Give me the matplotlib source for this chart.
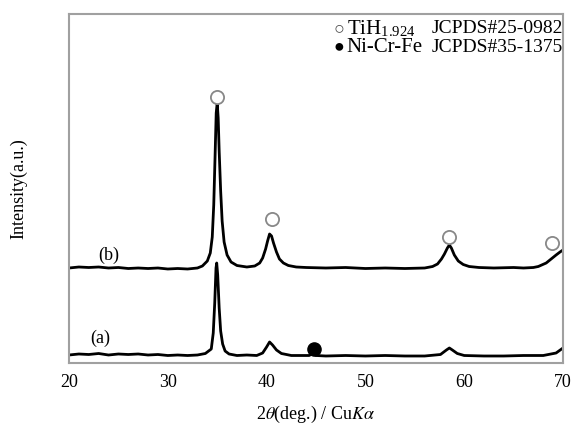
import matplotlib
matplotlib.use("Agg")
import matplotlib.pyplot as plt

plt.rcParams['font.family'] = ['Liberation Serif', 'DejaVu Serif']
plt.rcParams['mathtext.fontset'] = 'stix'

# Pattern (b)
b_x = [20, 21, 22, 23, 24, 25, 26, 27, 28, 29, 30, 31, 32, 33, 33.5, 34.0, 34.3, 34.5, 34.65, 34.78,
       34.9, 35.0, 35.1, 35.2, 35.35, 35.5, 35.7, 36.0, 36.4, 37, 38, 38.8, 39.3, 39.6,
       39.9, 40.1, 40.3, 40.5, 40.7, 41.0, 41.3, 41.7, 42.2, 43, 44, 46, 48, 50, 52, 54, 56, 56.8, 57.3,
       57.7, 58.0, 58.3, 58.5, 58.7, 59.0, 59.4, 59.9, 60.5, 61.5, 63, 65, 66, 67, 67.5, 68.3, 68.8, 69.3, 69.7, 70]
b_y = [95, 96, 95.5, 96, 95, 95.5, 94.5, 95, 94.5, 95, 94, 94.5, 94, 95, 97, 102, 110, 126, 158, 205,
       250, 260, 245, 212, 172, 142, 121, 108, 101, 97.5, 96, 97, 100, 105,
       114, 122, 129, 127, 120, 111, 104, 100, 97.5, 96, 95.5, 95, 95.5, 94.5, 95, 94.5, 95, 96.5, 99,
       104, 109, 115, 118, 115, 108, 102, 98.5, 96.5, 95.5, 95, 95.5, 95, 95.5, 96.5, 100, 104, 108, 111, 113]

# Pattern (a)
a_x = [20, 21, 22, 23, 24, 25, 26, 27, 28, 29, 30, 31, 32, 33, 33.8, 34.4, 34.6, 34.75, 34.88, 34.95,
       35.05, 35.2, 35.35, 35.55, 35.8, 36.2, 37, 38, 39, 39.6, 40.0, 40.3, 40.6, 41, 41.5, 42.5,
       43.5, 44.3, 44.7, 45.0, 46, 48, 50, 52, 54, 56, 57.6, 58.2, 58.5, 58.8, 59.3, 60, 62, 64,
       66, 68, 69.3, 70]
a_y = [8, 9, 8.5, 9.5, 8, 9, 8.5, 9, 8, 8.5, 7.5, 8, 7.5, 8, 9.5, 14, 30, 60, 95, 100,
       88, 55, 32, 19, 12, 9, 7.5, 8, 7.5, 10, 16, 21, 18, 13, 9.5, 7.5,
       7.5, 7.5, 9.5, 7.5, 7, 7.5, 7, 7.5, 7, 7, 8.5, 13, 15, 13, 9.5, 7.5, 7, 7,
       7.5, 7.5, 10, 15]

# Marker positions
open_x = [35.0, 40.5, 58.5, 68.9]
open_y = [266, 144, 126, 120]
fill_x = [44.8]
fill_y = [14]

tick_vals = [20, 30, 40, 50, 60, 70]

fig = plt.figure(figsize=(5.75, 4.24), dpi=100)
ax = fig.add_axes([69/575, (424-363)/424, (563-69)/575, (363-14)/424])

ax.plot(b_x, b_y, color='black', lw=2.0)
ax.plot(a_x, a_y, color='black', lw=2.0)

ax.scatter(open_x, open_y, s=90, facecolors='white', edgecolors='#888888', linewidths=1.3, zorder=3)
ax.scatter(fill_x, fill_y, s=90, color='black', zorder=3)

ax.set_xlim(20, 70)
ax.set_ylim(0, 349)
ax.set_xticks(tick_vals)
ax.set_xticklabels([str(v) for v in tick_vals], fontsize=13)
ax.set_yticks([])
ax.tick_params(axis='x', length=0, pad=8)
for s in ax.spines.values():
    s.set_color('#a0a0a0')
    s.set_linewidth(1.5)

ax.set_xlabel(r'2$\theta$(deg.) / Cu$K\alpha$', fontsize=13, labelpad=9)
ax.set_ylabel('Intensity(a.u.)', fontsize=13, labelpad=30)

ax.text(24.0, 108, '(b)', fontsize=13, ha='center', va='center')
ax.text(23.2, 25, '(a)', fontsize=13, ha='center', va='center')

# Legend text
ax.text(0.535, 0.958, '\u25CB', transform=ax.transAxes, fontsize=13, ha='left', va='center', color='#444444')
ax.text(0.562, 0.958, r'TiH$_{\mathregular{1.924}}$', transform=ax.transAxes, fontsize=15, ha='left', va='center')
ax.text(0.735, 0.958, 'JCPDS#25-0982', transform=ax.transAxes, fontsize=14, ha='left', va='center')
ax.text(0.535, 0.905, '\u25CF', transform=ax.transAxes, fontsize=13, ha='left', va='center')
ax.text(0.562, 0.905, 'Ni-Cr-Fe', transform=ax.transAxes, fontsize=15, ha='left', va='center')
ax.text(0.735, 0.905, 'JCPDS#35-1375', transform=ax.transAxes, fontsize=14, ha='left', va='center')

fig.savefig('out.png', dpi=100)
